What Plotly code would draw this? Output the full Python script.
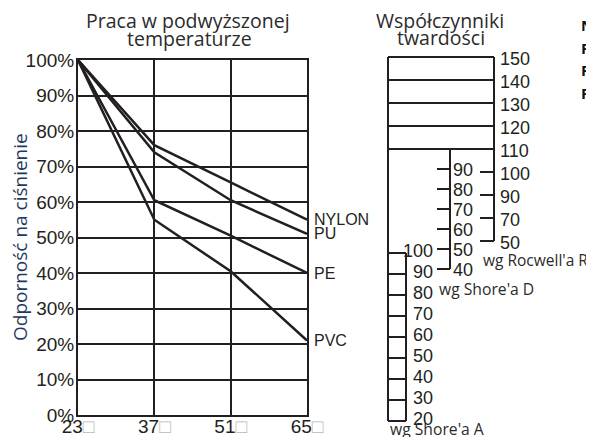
import plotly.graph_objects as go

# ---------------- data ----------------
temps = [23, 37, 51, 65]
temp_labels = ["23", "37", "51", "65"]
nylon = [100, 76, 65.5, 55]
pu = [100, 74, 60.5, 51]
pe = [100, 60.5, 50.5, 40]
pvc = [100, 55, 40.5, 21]
series = {"NYLON": nylon, "PU": pu, "PE": pe, "PVC": pvc}
y_ticks = [0, 10, 20, 30, 40, 50, 60, 70, 80, 90, 100]

rockwell = [150, 140, 130, 120, 110, 100, 90, 70, 50]
rockwell_box = [150, 140, 130, 120, 110]
rockwell_ticks = [100, 90, 70, 50]
shore_d = [90, 80, 70, 60, 50, 40]
shore_a = [100, 90, 80, 70, 60, 50, 40, 30, 20]
side_words = ["NYLON", "PU", "PE", "PVC"]

# ---------------- style / layout constants ----------------
SCREEN_W, SCREEN_H = 594, 445
OFF = 8  # page body margin: screen position = figure position + OFF
W, H = SCREEN_W - 2 * OFF, SCREEN_H - 2 * OFF   # fit inside the window, no scrollbars
PX0, PX1, PY0, PY1 = 78, 307, 60, 415   # plot area in screen pixels
INK = "#231f20"
GRID_W = 2
LINE_W = 2.5
ARIAL = "Liberation Sans, Arial, sans-serif"
TICK_FONT = dict(family=ARIAL, size=19, color=INK)
NUM_FONT = dict(family=ARIAL, size=18, color=INK)
HUM_FONT = "Open Sans, sans-serif"

# hardness diagram geometry (screen pixel canvas on overlay axes)
R_XL, R_XR, R_TOP, R_STEP, R_TICK_L = 388, 494, 57, 23, 480
D_X, D_TOP, D_STEP, D_TICK_L = 450, 169, 20, 437
A_XL, A_XR, A_TOP, A_STEP = 388, 406, 253, 21

def r_pos(v):
    return R_TOP + R_STEP * rockwell.index(v)

def d_pos(v):
    return D_TOP + D_STEP * shore_d.index(v)

def a_pos(v):
    return A_TOP + A_STEP * shore_a.index(v)

fig = go.Figure()

# ---------------- left chart ----------------
for name, vals in series.items():
    fig.add_trace(go.Scatter(x=temps, y=vals, mode="lines", name=name,
                             line=dict(color=INK, width=LINE_W),
                             xaxis="x", yaxis="y", showlegend=False,
                             hoverinfo="skip"))

annotations = []
for name, vals in series.items():
    annotations.append(dict(x=temps[-1], y=vals[-1], xref="x", yref="y",
                            text=name, showarrow=False, xanchor="left",
                            yanchor="middle", xshift=5,
                            font=dict(family=ARIAL, size=16, color=INK)))

# ---------------- hardness diagram ----------------
segx, segy = [], []

def seg(x0, y0, x1, y1):
    segx.extend([x0, x1, None])
    segy.extend([y0, y1, None])

# Rockwell box
for v in rockwell_box:
    seg(R_XL, r_pos(v), R_XR, r_pos(v))
seg(R_XR, r_pos(rockwell[0]), R_XR, r_pos(rockwell[-1]))
for v in rockwell_ticks:
    seg(R_TICK_L, r_pos(v), R_XR, r_pos(v))
# long left edge
seg(R_XL, r_pos(rockwell[0]), R_XL, a_pos(shore_a[-1]))
# Shore D scale
seg(D_X, r_pos(110), D_X, d_pos(shore_d[-1]))
for v in shore_d:
    seg(D_TICK_L, d_pos(v), D_X, d_pos(v))
# Shore A box
for v in shore_a:
    seg(A_XL, a_pos(v), A_XR, a_pos(v))
seg(A_XR, a_pos(shore_a[0]), A_XR, a_pos(shore_a[-1]))

fig.add_trace(go.Scatter(x=segx, y=segy, mode="lines", xaxis="x2", yaxis="y2",
                         line=dict(color=INK, width=2), showlegend=False,
                         hoverinfo="skip"))

for v in rockwell:
    annotations.append(dict(x=R_XR + 4, y=r_pos(v) + 2, xref="x2", yref="y2",
                            text=str(v), showarrow=False, xanchor="left",
                            yanchor="middle", font=NUM_FONT))
for v in shore_d:
    annotations.append(dict(x=D_X + 1, y=d_pos(v) + 1, xref="x2", yref="y2",
                            text=str(v), showarrow=False, xanchor="left",
                            yanchor="middle", font=NUM_FONT))
for v in shore_a:
    annotations.append(dict(x=435, y=a_pos(v) - 2, xref="x2", yref="y2",
                            text=str(v), showarrow=False, xanchor="right",
                            yanchor="middle", font=NUM_FONT))

def txt(x, y, s, size, anchor="center", color="#2b2b2b", family=HUM_FONT, angle=0):
    annotations.append(dict(x=x, y=y, xref="x2", yref="y2", text=s, showarrow=False,
                            xanchor=anchor, yanchor="middle", textangle=angle,
                            font=dict(family=family, size=size, color=color)))

txt(481, 260, "wg Rocwell'a R", 15.5, "left")
txt(437, 289, "wg Shore'a D", 15.7, "left")
txt(388, 429, "wg Shore'a A", 15.7, "left")

txt(188, 20, "Praca w podwyższonej", 19.5)
txt(189, 38, "temperaturze", 19.5)
txt(440, 20, "Współczynniki", 19.5)
txt(441, 37, "twardości", 19.5)
txt(20, 237, "Odporność na ciśnienie", 19, color="#1f3a5f", angle=-90)

for i, w in enumerate(side_words):
    txt(579, 25 + 22.7 * i, "<b>" + w + "</b>", 15, "left", color="#111111")

# ---------------- layout ----------------
box = "<span style='color:#b8b8b8'>□</span>"
fig.update_layout(
    width=W, height=H,
    margin=dict(l=0, r=0, t=0, b=0, autoexpand=False),
    paper_bgcolor="white", plot_bgcolor="rgba(0,0,0,0)",
    showlegend=False,
    xaxis=dict(domain=[(PX0 - OFF) / W, (PX1 - OFF) / W], range=[23, 65],
               tickvals=temps, ticktext=[t + box for t in temp_labels], showgrid=True,
               gridcolor=INK, gridwidth=GRID_W, showline=True, linecolor=INK,
               linewidth=GRID_W, mirror=True, zeroline=False, ticks="",
               ticklabelstandoff=-7, tickfont=TICK_FONT, anchor="y",
               automargin=False, fixedrange=True),
    yaxis=dict(domain=[1 - (PY1 - OFF) / H, 1 - (PY0 - OFF) / H], range=[0, 100],
               tickvals=y_ticks, ticktext=[f"{v}%" for v in y_ticks], showgrid=True,
               gridcolor=INK, gridwidth=GRID_W, showline=True, linecolor=INK,
               linewidth=GRID_W, mirror=True, zeroline=False, ticks="",
               ticklabelstandoff=-2, tickfont=TICK_FONT, anchor="x",
               automargin=False, fixedrange=True),
    xaxis2=dict(domain=[0, 1], range=[OFF, OFF + W], visible=False, anchor="y2",
                automargin=False, fixedrange=True),
    yaxis2=dict(domain=[0, 1], range=[OFF + H, OFF], visible=False, anchor="x2",
                automargin=False, fixedrange=True),
    annotations=annotations,
)

fig.write_html("out.html")
